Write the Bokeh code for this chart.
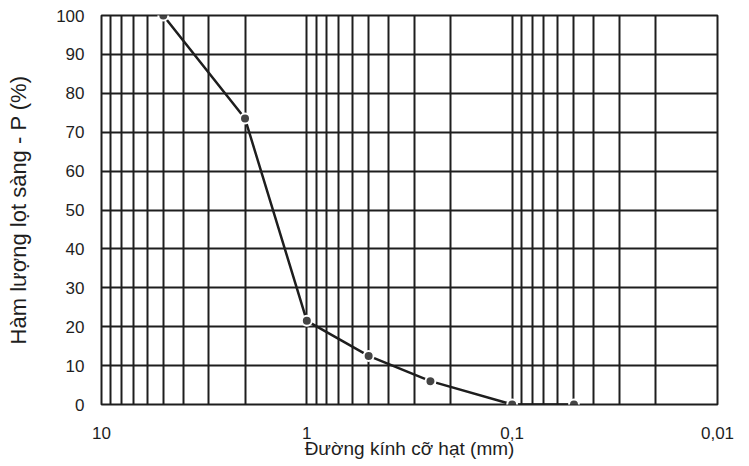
from bokeh.plotting import figure
from bokeh.models import Range1d, FixedTicker
from bokeh.embed import file_html
from bokeh.resources import INLINE

# Data
diameter_mm = [5, 2, 1, 0.5, 0.25, 0.1, 0.05]
passing_pct = [100, 73.5, 21.5, 12.5, 6, 0, 0]

x_ticks = [10, 1, 0.1, 0.01]
x_tick_labels = ["10", "1", "0,1", "0,01"]
y_ticks = [0, 10, 20, 30, 40, 50, 60, 70, 80, 90, 100]

x_minor = [m * 10.0 ** e for e in (-2, -1, 0) for m in range(2, 10)]

FONT = "Liberation Sans"
INK = "#1e1e1e"

p = figure(
    x_axis_type="log",
    x_range=Range1d(10, 0.01),
    y_range=Range1d(0, 100),
    width=747,
    height=464,
    min_border_left=101,
    min_border_right=30,
    min_border_top=15,
    min_border_bottom=60,
    output_backend="svg",
    toolbar_location=None,
    background_fill_color="white",
    border_fill_color="white",
)

p.outline_line_color = INK
p.outline_line_width = 2

xt = FixedTicker(ticks=x_ticks, minor_ticks=x_minor)
yt = FixedTicker(ticks=y_ticks)
p.xaxis.ticker = xt
p.yaxis.ticker = yt
p.xgrid.ticker = xt
p.ygrid.ticker = yt

for g in (p.xgrid, p.ygrid):
    g.grid_line_color = INK
    g.grid_line_width = 2
    g.grid_line_alpha = 1
p.xgrid.minor_grid_line_color = INK
p.xgrid.minor_grid_line_width = 2

p.xaxis.major_label_overrides = {t: s for t, s in zip(x_ticks, x_tick_labels)}

for ax in (p.xaxis, p.yaxis):
    ax.axis_line_color = None
    ax.major_tick_line_color = None
    ax.minor_tick_line_color = None
    ax.major_tick_in = 0
    ax.major_tick_out = 0
    ax.minor_tick_in = 0
    ax.minor_tick_out = 0
    ax.major_label_text_font = FONT
    ax.major_label_text_font_size = "17px"
    ax.major_label_text_color = INK
    ax.axis_label_text_font = FONT
    ax.axis_label_text_font_style = "normal"
    ax.axis_label_text_color = INK

p.xaxis.axis_label = "Đường kính cỡ hạt (mm)"
p.xaxis.axis_label_text_font_size = "19px"
p.xaxis.major_label_standoff = 22
p.xaxis.axis_label_standoff = -4

p.yaxis.axis_label = "Hàm lượng lọt sàng - P (%)"
p.yaxis.axis_label_text_font_size = "22px"
p.yaxis.major_label_standoff = 17
p.yaxis.axis_label_standoff = 22

p.line(diameter_mm, passing_pct, line_color=INK, line_width=2.5)
p.scatter(diameter_mm, passing_pct, size=10, marker="circle",
          fill_color="#454545", line_color="white", line_width=2)

open("out.html", "w").write(file_html(p, INLINE))
